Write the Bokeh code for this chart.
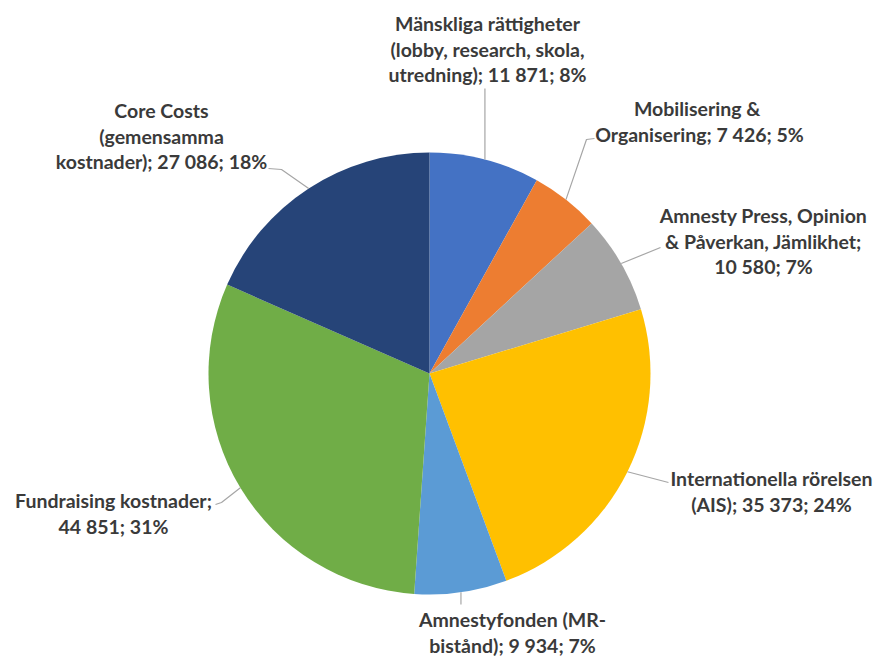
import math
from bokeh.plotting import figure
from bokeh.models import Range1d
from bokeh.embed import file_html
from bokeh.resources import INLINE
from bokeh.core.properties import value

# ---- data ----
categories = [
    "Mänskliga rättigheter\n(lobby, research, skola,\nutredning)",
    "Mobilisering  &\nOrganisering",
    "Amnesty Press, Opinion\n& Påverkan, Jämlikhet",
    "Internationella rörelsen\n(AIS)",
    "Amnestyfonden (MR-\nbistånd)",
    "Fundraising kostnader",
    "Core Costs\n(gemensamma\nkostnader)",
]
values = [11871, 7426, 10580, 35373, 9934, 44851, 27086]
percents = [8, 5, 7, 24, 7, 31, 18]
value_on_new_line = [False, False, True, False, False, True, False]
colors = ["#4472C4", "#ED7D31", "#A5A5A5", "#FFC000", "#5B9BD5", "#70AD47", "#264478"]

# ---- layout (image pixel coordinates) ----
IMG_W, IMG_H = 877, 659
CX, CY, R = 429, 373, 221
label_cx = [487, 699, 763, 771, 512, 113, 161]
label_top = [23, 108, 215, 478, 619, 500, 110]
leader_start = [[(None, 88)], [(594, 138), (586, 139)], [(660, 247)], [(668, 482)], [(None, 604)],
                [(215, 504), (221, 502)], [(268, 168), (281, 169)]]
LINE_H = 25.5


def fy(y):
    return IMG_H - y


def fmt(v):
    return f"{v:,}".replace(",", " ")


p = figure(width=IMG_W, height=IMG_H, x_range=Range1d(0, IMG_W), y_range=Range1d(0, IMG_H),
           output_backend="svg", toolbar_location=None, min_border=0)
p.axis.visible = False
p.grid.visible = False
p.outline_line_color = None
p.background_fill_color = "white"

total = sum(values)
cum = 0.0
starts, ends, mids = [], [], []
for v in values:
    a0 = cum / total
    cum += v
    a1 = cum / total
    starts.append(math.pi / 2 - 2 * math.pi * a0)
    ends.append(math.pi / 2 - 2 * math.pi * a1)
    mids.append(math.pi / 2 - 2 * math.pi * (a0 + a1) / 2)

p.wedge(x=[CX] * len(values), y=[fy(CY)] * len(values), radius=R,
        start_angle=starts, end_angle=ends, direction="clock",
        fill_color=colors, line_color=None)

# leader lines
xs, ys = [], []
for i, m in enumerate(mids):
    ex = CX + R * math.cos(m)
    ey = fy(CY) + R * math.sin(m)
    pts = [(ex if x is None else x, fy(y)) for x, y in leader_start[i]]
    pts.append((ex, ey))
    xs.append([q[0] for q in pts])
    ys.append([q[1] for q in pts])
p.multi_line(xs=xs, ys=ys, line_color="#A6A6A6", line_width=1.2)

# labels
tx, ty, tt = [], [], []
for i, name in enumerate(categories):
    suffix = f"{fmt(values[i])}; {percents[i]}%"
    if value_on_new_line[i]:
        text = name + ";\n" + suffix
    else:
        text = name + "; " + suffix
    for k, line in enumerate(text.split("\n")):
        tx.append(label_cx[i])
        ty.append(fy(label_top[i] + k * LINE_H))
        tt.append(line)
p.text(x=tx, y=ty, text=tt, text_align="center", text_baseline="middle",
       text_font=value("Lato"), text_font_style="bold", text_font_size="19.5px",
       text_color="#3A3A3A")

open("out.html", "w").write(file_html(p, INLINE))
